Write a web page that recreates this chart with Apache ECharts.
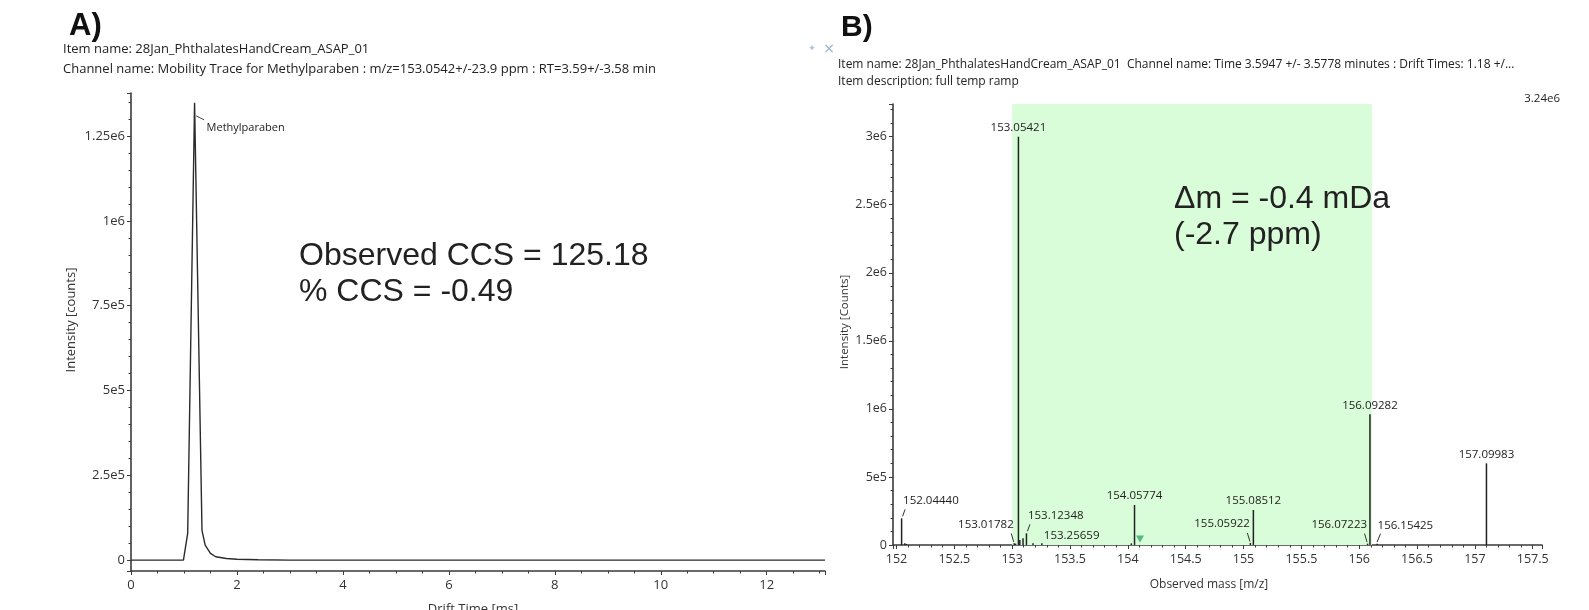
<!DOCTYPE html>
<html><head><meta charset="utf-8">
<script src="https://cdn.jsdelivr.net/npm/echarts@6/dist/echarts.min.js"></script>
<style>html,body{margin:0;padding:0;background:#fff}#c{width:1589px;height:610px}</style>
</head><body><div id="c"></div>
<script>
// ---------- Panel A: mobility trace ----------
const driftTime = [0, 0.5, 0.99, 1.07, 1.2, 1.34, 1.4, 1.5, 1.6, 1.8, 2.0, 2.4, 3, 4, 6, 8, 10, 12, 13.1];
const mobilityIntensity = [0, 0, 0, 79000, 1348000, 88000, 44000, 20000, 10000, 5000, 2500, 1000, 0, 0, 0, 0, 0, 0, 0];
const peakNameA = 'Methylparaben';
const leftYTickValues = [0, 250000, 500000, 750000, 1000000, 1250000];
const leftYTickLabels = ['0', '2.5e5', '5e5', '7.5e5', '1e6', '1.25e6'];
const leftXTickValues = [0, 2, 4, 6, 8, 10, 12];
const leftXTickLabels = ['0', '2', '4', '6', '8', '10', '12'];

// ---------- Panel B: mass spectrum ----------
const mzValues = [152.0444, 152.072, 152.086, 153.01782, 153.03, 153.05421, 153.066, 153.094, 153.12348, 153.18, 153.25659,
  154.03, 154.05774, 155.05922, 155.08512, 156.07223, 156.09282, 156.15425, 157.09983];
const mzIntensity = [196000, 12000, 8000, 12000, 10000, 3000000, 37000, 49000, 86000, 12000, 12000,
  12000, 294000, 15000, 257000, 10000, 960000, 10000, 600000];
const mzLabels = ['152.04440', '', '', '153.01782', '', '153.05421', '', '', '153.12348', '', '153.25659',
  '', '154.05774', '155.05922', '155.08512', '156.07223', '156.09282', '156.15425', '157.09983'];
const highlightRange = [153.0, 156.11];
const triangleMarker = [[154.105, 45000]];
const rightYTickValues = [0, 500000, 1000000, 1500000, 2000000, 2500000, 3000000];
const rightYTickLabels = ['0', '5e5', '1e6', '1.5e6', '2e6', '2.5e6', '3e6'];
const rightXTickValues = [152, 152.5, 153, 153.5, 154, 154.5, 155, 155.5, 156, 156.5, 157, 157.5];
const rightXTickLabels = ['152', '152.5', '153', '153.5', '154', '154.5', '155', '155.5', '156', '156.5', '157', '157.5'];

// label placement styles for the spectrum labels
const labelPlacement = {
  '152.04440': 'upright', '153.12348': 'upright', '153.01782': 'left', '155.05922': 'left',
  '156.07223': 'left', '156.15425': 'right', '153.25659': 'flat'
};

const UI = 'Open Sans';
const AX = '#3a3a3a';
function lookup(values, labels) {
  return v => { for (let i = 0; i < values.length; i++) if (Math.abs(values[i] - v) < 1e-6) return labels[i]; return ''; };
}

const chart = echarts.init(document.getElementById('c'), null, {renderer: 'canvas'});
const Y_A = [-32000, 1377000], X_A = [0, 13.1];
const Y_B = [0, 3240000], X_B = [151.97, 157.58];

function mainAxisCommon(extra) {
  return Object.assign({
    axisLine: {show: true, onZero: false, lineStyle: {color: AX, width: 1.6}},
    axisTick: {show: true, length: 4, lineStyle: {color: AX, width: 1}},
    splitLine: {show: false}
  }, extra);
}
function minorAxis(extra) {
  return Object.assign({
    type: 'value', axisLine: {show: false, onZero: false},
    axisTick: {show: true, length: 2.5, lineStyle: {color: AX, width: 1}},
    axisLabel: {show: false}, splitLine: {show: false}
  }, extra);
}

const option = {
  animation: false,
  backgroundColor: '#fff',
  grid: [
    {left: 131, top: 93, width: 694, height: 478},
    {left: 893, top: 104, width: 649, height: 441}
  ],
  xAxis: [
    mainAxisCommon({type: 'value', gridIndex: 0, position: 'bottom', min: X_A[0], max: X_A[1], interval: 2,
      axisLabel: {color: '#333', fontSize: 13, fontFamily: UI, margin: 8, formatter: lookup(leftXTickValues, leftXTickLabels)}}),
    minorAxis({gridIndex: 0, position: 'bottom', min: X_A[0], max: X_A[1], interval: 0.5}),
    mainAxisCommon({type: 'value', gridIndex: 1, position: 'bottom', min: X_B[0], max: X_B[1], minInterval: 0.5, maxInterval: 0.5,
      axisLabel: {color: '#333', fontSize: 12.5, fontFamily: UI, margin: 8, formatter: lookup(rightXTickValues, rightXTickLabels)}}),
    minorAxis({gridIndex: 1, position: 'bottom', min: X_B[0], max: X_B[1], minInterval: 0.1, maxInterval: 0.1})
  ],
  yAxis: [
    mainAxisCommon({type: 'value', gridIndex: 0, position: 'left', min: Y_A[0], max: Y_A[1], minInterval: 250000, maxInterval: 250000,
      axisLabel: {color: '#333', fontSize: 13, fontFamily: UI, margin: 6, formatter: lookup(leftYTickValues, leftYTickLabels)}}),
    minorAxis({gridIndex: 0, position: 'left', min: Y_A[0], max: Y_A[1], minInterval: 50000, maxInterval: 50000}),
    mainAxisCommon({type: 'value', gridIndex: 1, position: 'left', min: Y_B[0], max: Y_B[1], interval: 500000,
      axisLabel: {color: '#333', fontSize: 12.5, fontFamily: UI, margin: 6, formatter: lookup(rightYTickValues, rightYTickLabels)}}),
    minorAxis({gridIndex: 1, position: 'left', min: Y_B[0], max: Y_B[1], interval: 100000})
  ],
  series: [
    {
      type: 'line', xAxisIndex: 0, yAxisIndex: 0, symbol: 'none', z: 3,
      lineStyle: {color: '#2a2a2a', width: 1.4},
      data: driftTime.map((t, i) => [t, mobilityIntensity[i]])
    },
    {
      type: 'custom', xAxisIndex: 0, yAxisIndex: 0, z: 4, silent: true,
      data: (function () { let k = 0; mobilityIntensity.forEach((v, i) => { if (v > mobilityIntensity[k]) k = i; }); return [[driftTime[k], mobilityIntensity[k]]]; })(),
      renderItem: function (params, api) {
        const p = api.coord([api.value(0), api.value(1)]);
        return {type: 'group', children: [
          {type: 'line', shape: {x1: p[0] + 1.5, y1: p[1] + 13, x2: p[0] + 9.5, y2: p[1] + 17}, style: {stroke: '#444', lineWidth: 1}},
          {type: 'text', style: {x: p[0] + 12, y: p[1] + 25, text: peakNameA, fill: '#222', font: '11px "Open Sans"', verticalAlign: 'middle', align: 'left'}}
        ]};
      }
    },
    {
      type: 'custom', xAxisIndex: 2, yAxisIndex: 2, z: 1, silent: true,
      encode: {x: [0, 1]},
      data: [highlightRange],
      renderItem: function (params, api) {
        const a = api.coord([api.value(0), Y_B[1]]);
        const b = api.coord([api.value(1), Y_B[0]]);
        return {type: 'rect', shape: {x: a[0], y: a[1], width: b[0] - a[0], height: b[1] - a[1]}, style: {fill: '#d9fcd9'}};
      }
    },
    {
      type: 'custom', xAxisIndex: 2, yAxisIndex: 2, z: 3, silent: true,
      data: mzValues.map((m, i) => [m, mzIntensity[i], i]),
      renderItem: function (params, api) {
        const i = api.value(2);
        const b = api.coord([api.value(0), 0]);
        const t = api.coord([api.value(0), api.value(1)]);
        const px = t[0], py = t[1];
        const ch = [{type: 'line', shape: {x1: px, y1: b[1], x2: px, y2: py}, style: {stroke: '#222', lineWidth: 1.5}}];
        const lab = mzLabels[i];
        if (lab) {
          const kind = labelPlacement[lab] || 'top';
          const font = '11.5px "Open Sans"';
          const txt = (x, y, align) => ({type: 'text', style: {x: x, y: y, text: lab, fill: '#222', font: font, align: align, verticalAlign: 'middle'}});
          const ld = (x1, y1, x2, y2) => ({type: 'line', shape: {x1: x1, y1: y1, x2: x2, y2: y2}, style: {stroke: '#333', lineWidth: 1}});
          if (kind === 'top') ch.push(txt(px, py - 9, 'center'));
          else if (kind === 'upright') { ch.push(ld(px + 1, py - 2, px + 3.5, py - 9)); ch.push(txt(px + 1.5, py - 17.5, 'left')); }
          else if (kind === 'left') { ch.push(ld(px - 3, py - 10, px - 0.5, py - 1.5)); ch.push(txt(px - 0.5, py - 19, 'right')); }
          else if (kind === 'right') { ch.push(ld(px, py - 1.5, px + 3.5, py - 10)); ch.push(txt(px + 0.5, py - 18, 'left')); }
          else if (kind === 'flat') ch.push(txt(px + 2, py - 7.5, 'left'));
        }
        return {type: 'group', children: ch};
      }
    },
    {
      type: 'scatter', xAxisIndex: 2, yAxisIndex: 2, z: 4, silent: true,
      symbol: 'triangle', symbolRotate: 180, symbolSize: [8, 7],
      itemStyle: {color: '#2fa86c'},
      data: triangleMarker
    }
  ],
  graphic: {elements: [
    {type: 'text', z: 100, left: 69, top: 11, style: {text: 'A)', font: 'bold 31px "Liberation Sans"', fill: '#111'}},
    {type: 'text', z: 100, x: 63, y: 49, style: {text: 'Item name: 28Jan_PhthalatesHandCream_ASAP_01', font: '13px "Open Sans"', fill: '#222', verticalAlign: 'middle'}},
    {type: 'text', z: 100, x: 63, y: 69, style: {text: 'Channel name: Mobility Trace for Methylparaben : m/z=153.0542+/-23.9 ppm : RT=3.59+/-3.58 min', font: '13px "Open Sans"', fill: '#222', verticalAlign: 'middle'}},
    {type: 'text', z: 100, x: 812, y: 49, style: {text: '✦', font: '9px "DejaVu Sans"', fill: '#a9c2e0', align: 'center', verticalAlign: 'middle'}},
    {type: 'text', z: 100, x: 829, y: 49, style: {text: '×', font: '14px "DejaVu Sans"', fill: '#8fb0d6', align: 'center', verticalAlign: 'middle'}},
    {type: 'text', z: 100, x: 299, y: 256, style: {text: 'Observed CCS = 125.18', font: '32px "Liberation Sans"', fill: '#222', verticalAlign: 'middle'}},
    {type: 'text', z: 100, x: 299, y: 292, style: {text: '% CCS = -0.49', font: '32px "Liberation Sans"', fill: '#222', verticalAlign: 'middle'}},
    {type: 'text', z: 100, x: 71, y: 320, rotation: Math.PI / 2, style: {text: 'Intensity [counts]', font: '13px "Open Sans"', fill: '#333', align: 'center', verticalAlign: 'middle'}},
    {type: 'text', z: 100, x: 473, y: 609, style: {text: 'Drift Time [ms]', font: '13px "Open Sans"', fill: '#333', align: 'center', verticalAlign: 'middle'}},

    {type: 'text', z: 100, left: 841, top: 13, style: {text: 'B)', font: 'bold 30px "Liberation Sans"', fill: '#111'}},
    {type: 'text', z: 100, x: 838, y: 65, style: {text: 'Item name: 28Jan_PhthalatesHandCream_ASAP_01  Channel name: Time 3.5947 +/- 3.5778 minutes : Drift Times: 1.18 +/...', font: '12px "Open Sans"', fill: '#222', verticalAlign: 'middle'}},
    {type: 'text', z: 100, x: 838, y: 82, style: {text: 'Item description: full temp ramp', font: '12px "Open Sans"', fill: '#222', verticalAlign: 'middle'}},
    {type: 'text', z: 100, x: 1560, y: 99, style: {text: '3.24e6', font: '11.5px "Open Sans"', fill: '#222', align: 'right', verticalAlign: 'middle'}},
    {type: 'text', z: 100, x: 1174, y: 199, style: {text: 'Δm = -0.4 mDa', font: '32px "Liberation Sans"', fill: '#222', verticalAlign: 'middle'}},
    {type: 'text', z: 100, x: 1174, y: 235, style: {text: '(-2.7 ppm)', font: '32px "Liberation Sans"', fill: '#222', verticalAlign: 'middle'}},
    {type: 'text', z: 100, x: 845, y: 322, rotation: Math.PI / 2, style: {text: 'Intensity [Counts]', font: '11.5px "Open Sans"', fill: '#333', align: 'center', verticalAlign: 'middle'}},
    {type: 'text', z: 100, x: 1209, y: 585, style: {text: 'Observed mass [m/z]', font: '12px "Open Sans"', fill: '#333', align: 'center', verticalAlign: 'middle'}}
  ]}
};
chart.setOption(option);
</script>
</body></html>
